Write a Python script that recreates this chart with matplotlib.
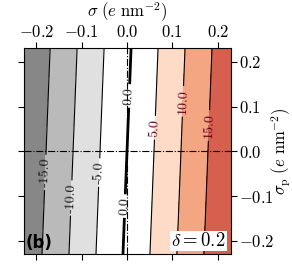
import numpy as np
import matplotlib
matplotlib.use("Agg")
import matplotlib.pyplot as plt

plt.rcParams['font.family'] = 'serif'
plt.rcParams['font.serif'] = ['cmr10', 'DejaVu Serif']
plt.rcParams['mathtext.fontset'] = 'cm'
plt.rcParams['axes.formatter.use_mathtext'] = True
plt.rcParams['axes.unicode_minus'] = True

# grid corners (e nm^-2) and potential values
sigma = [-0.23, 0.23]
sigma_p = [-0.23, 0.23]
Z = [[-18.6, 20.1],
     [-20.1, 18.6]]
levels = [-20, -15, -10, -5, 0, 5, 10, 15, 20]
fill_colors = ['#878787', '#bababa', '#e0e0e0', '#ffffff', '#ffffff',
               '#fddbc7', '#f4a582', '#d6604d']
line_levels = [-15, -10, -5, 5, 10, 15]
xticks = [-0.2, -0.1, 0.0, 0.1, 0.2]
yticks = [-0.2, -0.1, 0.0, 0.1, 0.2]

fig = plt.figure(figsize=(2.92, 2.64), dpi=100)
ax = fig.add_axes([0.082, 0.038, 0.709, 0.780])

S, SP = np.meshgrid(sigma, sigma_p)
Z = np.array(Z)
ax.contourf(S, SP, Z, levels=levels, colors=fill_colors, extend='both')
cs = ax.contour(S, SP, Z, levels=line_levels, colors='k', linewidths=0.8,
                linestyles='solid')
cs0 = ax.contour(S, SP, Z, levels=[0], colors='k', linewidths=2.0,
                 linestyles='solid')

ax.axhline(0, color='k', lw=0.8, ls='-.')
ax.axvline(0, color='k', lw=0.8, ls='-.')

ax.set_xlim(-0.227, 0.229)
ax.set_ylim(-0.229, 0.231)

def lab_pos(v, sp):
    return ((v + 3.26 * sp) / 84.1, sp)

man = [lab_pos(-15, -0.047), lab_pos(-10, -0.104), lab_pos(-5, -0.047),
       lab_pos(5, 0.053), lab_pos(10, 0.112), lab_pos(15, 0.058)]
lbls = ax.clabel(cs, fmt='%.1f', fontsize=10, inline=True, manual=man,
                 inline_spacing=3)
for t in lbls:
    txt = t.get_text().replace('−', '-')
    t.set_color('#67001f' if not txt.strip().startswith('-') else '#1a1a1a')
lbl0 = ax.clabel(cs0, fmt='%.1f', fontsize=10, inline=True,
                 manual=[lab_pos(0, 0.124), lab_pos(0, -0.122)],
                 inline_spacing=3)
for t in lbl0:
    t.set_color('#1a1a1a')

ax.set_xticks(xticks)
ax.set_yticks(yticks)
ax.xaxis.tick_top()
ax.yaxis.tick_right()
ax.tick_params(axis='both', which='both', direction='out', length=4,
               top=True, bottom=True, left=True, right=True,
               labeltop=True, labelbottom=False, labelleft=False,
               labelright=True, labelsize=12, pad=1.5)
ax.xaxis.set_label_position('top')
ax.yaxis.set_label_position('right')
ax.set_xlabel(r'$\sigma\ (e\ \mathrm{nm}^{-2})$', fontsize=12)
ax.xaxis.set_label_coords(0.5, 1.15)
ax.set_ylabel(r'$\sigma_{\mathrm{p}}\ (e\ \mathrm{nm}^{-2})$', fontsize=12)
ax.yaxis.set_label_coords(1.185, 0.5)

ax.text(0.01, 0.01, '(b)', transform=ax.transAxes, fontsize=12,
        fontweight='bold', family='DejaVu Sans', va='bottom', ha='left')
ax.text(0.975, 0.02, r'$\delta = 0.2$', transform=ax.transAxes, fontsize=13.5,
        va='bottom', ha='right',
        bbox=dict(facecolor='white', edgecolor='none', pad=1.0))

fig.savefig('out.png', dpi=100)
